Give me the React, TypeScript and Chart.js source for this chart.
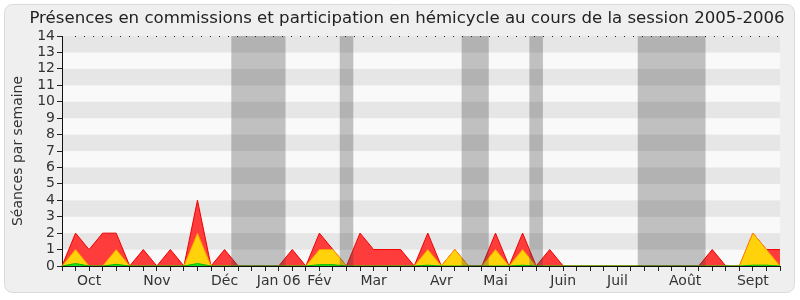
import React, { useEffect, useRef } from "react";
import { Chart, registerables } from "chart.js";

Chart.register(...registerables);

const chartTitle = "Présences en commissions et participation en hémicycle au cours de la session 2005-2006";
const monthNames = ["Oct", "Nov", "Déc", "Jan 06", "Fév", "Mar", "Avr", "Mai", "Juin", "Juil", "Août", "Sept"];
const monthWeekIdx = [2, 7, 12, 16, 19, 23, 28, 32, 37, 41, 46, 51];
const weekCount = 54;

const totalSeances = [0, 2, 1, 2, 2, 0, 1, 0, 1, 0, 4, 0, 1, 0, 0, 0, 0, 1, 0, 2, 1, 0, 2, 1, 1, 1, 0, 2, 0, 1, 0, 0, 2, 0, 2, 0, 1, 0, 0, 0, 0, 0, 0, 0, 0, 0, 0, 0, 1, 0, 0, 2, 1, 1];
const commissionSeances = [0, 1, 0, 0, 1, 0, 0, 0, 0, 0, 2, 0, 0, 0, 0, 0, 0, 0, 0, 1, 1, 0, 0, 0, 0, 0, 0, 1, 0, 1, 0, 0, 1, 0, 1, 0, 0, 0, 0, 0, 0, 0, 0, 0, 0, 0, 0, 0, 0, 0, 0, 2, 1, 0];
const interventions = [0, 0.15, 0, 0, 0.1, 0, 0, 0, 0, 0, 0.15, 0, 0, 0, 0, 0, 0, 0, 0, 0.08, 0.08, 0, 0, 0, 0, 0, 0, 0.05, 0, 0, 0, 0, 0, 0, 0.05, 0, 0, 0, 0, 0, 0, 0, 0, 0, 0, 0, 0, 0, 0, 0, 0, 0.05, 0.05, 0];

const vacationStart = [12.5, 20.5, 29.5, 34.5, 42.5];
const vacationEnd = [16.5, 21.5, 31.5, 35.5, 47.5];

const yMax = 14;

const weekLabels: string[] = Array.from({ length: weekCount }, (_, i) => {
  const k = monthWeekIdx.indexOf(i);
  return k >= 0 ? monthNames[k] : "";
});

const FONT = "'DejaVu Sans', sans-serif";

const backgroundPlugin = {
  id: "panelBackground",
  beforeDraw(chart: any) {
    const { ctx, width, height } = chart;
    ctx.save();
    ctx.fillStyle = "#ffffff";
    ctx.fillRect(0, 0, width, height);
    ctx.beginPath();
    ctx.roundRect(4.5, 4.5, 790, 288, 8);
    ctx.fillStyle = "#efefef";
    ctx.fill();
    ctx.strokeStyle = "#dadada";
    ctx.lineWidth = 1;
    ctx.stroke();
    ctx.fillStyle = "#222";
    ctx.font = "16.6px " + FONT;
    ctx.textAlign = "center";
    ctx.textBaseline = "middle";
    ctx.fillText(chartTitle, 407, 19);
    ctx.restore();
  },
  beforeDatasetsDraw(chart: any) {
    const { ctx, chartArea, scales } = chart;
    const y = scales.y;
    ctx.save();
    for (let k = 0; k < yMax; k++) {
      const top = y.getPixelForValue(k + 1);
      const bottom = y.getPixelForValue(k);
      ctx.fillStyle = k % 2 === 1 ? "#e6e6e6" : "#f9f9f9";
      ctx.fillRect(chartArea.left + 1, top, chartArea.right - chartArea.left - 1, bottom - top);
    }
    ctx.setLineDash([1, 8]);
    ctx.strokeStyle = "#222";
    ctx.lineWidth = 1;
    ctx.beginPath();
    const ty = Math.round(y.getPixelForValue(yMax)) + 0.5;
    ctx.moveTo(chartArea.left + 13, ty);
    ctx.lineTo(chartArea.right, ty);
    ctx.stroke();
    ctx.restore();
  },
  afterDatasetsDraw(chart: any) {
    const { ctx, chartArea, scales } = chart;
    const x = scales.x;
    ctx.save();
    ctx.fillStyle = "rgba(60,60,60,0.3)";
    for (let i = 0; i < vacationStart.length; i++) {
      const x0 = x.getPixelForValue(vacationStart[i]);
      const x1 = x.getPixelForValue(vacationEnd[i]);
      ctx.fillRect(x0, chartArea.top, x1 - x0, chartArea.bottom - chartArea.top);
    }
    ctx.restore();
  },
};

export default function App() {
  const canvasRef = useRef<HTMLCanvasElement>(null);

  useEffect(() => {
    if (!canvasRef.current) return;
    const chart = new Chart(canvasRef.current, {
      type: "line",
      data: {
        labels: weekLabels,
        datasets: [
          {
            label: "Interventions",
            data: interventions,
            fill: "origin",
            backgroundColor: "#22dd22",
            borderColor: "#00bb00",
            borderWidth: 1,
            pointRadius: 0,
            tension: 0,
            order: 0,
          },
          {
            label: "Commission",
            data: commissionSeances,
            fill: "origin",
            backgroundColor: "#ffd20a",
            borderColor: "#ff9a00",
            borderWidth: 1,
            pointRadius: 0,
            tension: 0,
            order: 1,
          },
          {
            label: "Total",
            data: totalSeances,
            fill: "origin",
            backgroundColor: "#ff3c3c",
            borderColor: "#ee0000",
            borderWidth: 1,
            pointRadius: 0,
            tension: 0,
            order: 2,
          },
        ],
      },
      options: {
        animation: false,
        responsive: false,
        maintainAspectRatio: false,
        layout: { padding: { left: 0, right: 20, top: 36, bottom: 0 } },
        plugins: {
          legend: { display: false },
          tooltip: { enabled: false },
          title: { display: false },
        },
        scales: {
          x: {
            type: "category",
            offset: false,
            grid: { drawOnChartArea: false, drawTicks: true, tickLength: 5, color: "#222" },
            border: { display: true, color: "#111" },
            ticks: {
              autoSkip: false,
              maxRotation: 0,
              minRotation: 0,
              padding: 2,
              color: "#333",
              font: { family: FONT, size: 14 },
            },
            afterFit(scale: any) {
              scale.height = 34;
            },
          },
          y: {
            min: 0,
            max: yMax,
            grid: { drawOnChartArea: false, drawTicks: true, tickLength: 5, color: "#222" },
            border: { display: true, color: "#111" },
            ticks: {
              stepSize: 1,
              autoSkip: false,
              padding: 2,
              color: "#333",
              font: { family: FONT, size: 14 },
            },
            title: {
              display: true,
              text: "Séances par semaine",
              color: "#333",
              font: { family: FONT, size: 14 },
              padding: { top: 10, bottom: 0 },
            },
            afterFit(scale: any) {
              scale.width = 62;
            },
          },
        },
      },
      plugins: [backgroundPlugin],
    });
    return () => chart.destroy();
  }, []);

  return (
    <div style={{ position: "fixed", left: 0, top: 0, width: 800, height: 300 }}>
      <canvas ref={canvasRef} width={800} height={300} style={{ width: 800, height: 300, display: "block" }} />
    </div>
  );
}
